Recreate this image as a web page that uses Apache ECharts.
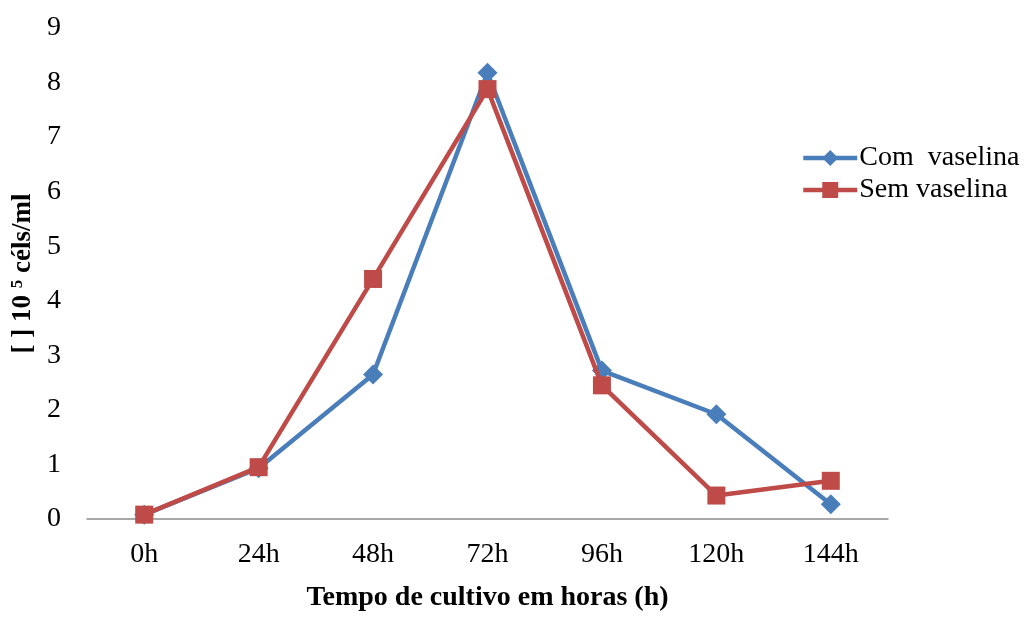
<!DOCTYPE html>
<html><head><meta charset="utf-8">
<script src="https://cdn.jsdelivr.net/npm/echarts@6/dist/echarts.min.js"></script>
<style>html,body{margin:0;padding:0;background:#fff}#c{width:1027px;height:617px}</style>
</head><body><div id="c"></div>
<script>
const categories = ['0h','24h','48h','72h','96h','120h','144h'];
const comVaselina = [0.08, 0.93, 2.65, 8.18, 2.72, 1.92, 0.27];
const semVaselina = [0.08, 0.95, 4.40, 7.88, 2.45, 0.43, 0.70];
const yTicks = [0,1,2,3,4,5,6,7,8,9];
const font = '"Liberation Serif","Times New Roman",serif';
const chart = echarts.init(document.getElementById('c'));
chart.setOption({
  animation:false,
  textStyle:{fontFamily:font},
  grid:{left:87,right:139,top:28,bottom:87},
  legend:{
    orient:'vertical', left:796, top:139, itemGap:4, itemWidth:54, itemHeight:20,
    lineStyle:{width:4.5},
    textStyle:{fontFamily:font,fontSize:28,color:'#000',padding:[0,0,0,-3]},
    data:['Com  vaselina','Sem vaselina']
  },
  xAxis:{
    type:'category', data:categories, boundaryGap:true,
    axisLine:{lineStyle:{color:'#8c8c8c',width:1.5}},
    axisTick:{show:false},
    axisLabel:{fontFamily:font,fontSize:28,color:'#000',margin:22},
    name:'Tempo de cultivo em horas (h)', nameLocation:'middle', nameGap:65,
    nameTextStyle:{fontFamily:font,fontSize:28,fontWeight:'bold',color:'#000'}
  },
  yAxis:{
    type:'value', min:yTicks[0], max:yTicks[yTicks.length-1], interval:1,
    axisLine:{show:false}, axisTick:{show:false}, splitLine:{show:false},
    axisLabel:{fontFamily:font,fontSize:28,color:'#000',margin:26},
    name:'{a|[ ] 10 }{s|5}{a| céls/ml}', nameLocation:'middle', nameGap:43, nameRotate:90,
    nameTextStyle:{rich:{
      a:{fontFamily:font,fontSize:27,fontWeight:'bold',color:'#000'},
      s:{fontFamily:font,fontSize:17,fontWeight:'bold',color:'#000',verticalAlign:'top',padding:[0,0,10,0]}
    }}
  },
  series:[
    {name:'Com  vaselina',type:'line',data:comVaselina,symbol:'diamond',symbolSize:20,
     lineStyle:{color:'#4a7ebb',width:4.5},itemStyle:{color:'#4a7ebb'},z:2},
    {name:'Sem vaselina',type:'line',data:semVaselina,symbol:'rect',symbolSize:18,
     lineStyle:{color:'#be4b48',width:4.5},itemStyle:{color:'#be4b48'},z:3}
  ]
});
</script></body></html>
